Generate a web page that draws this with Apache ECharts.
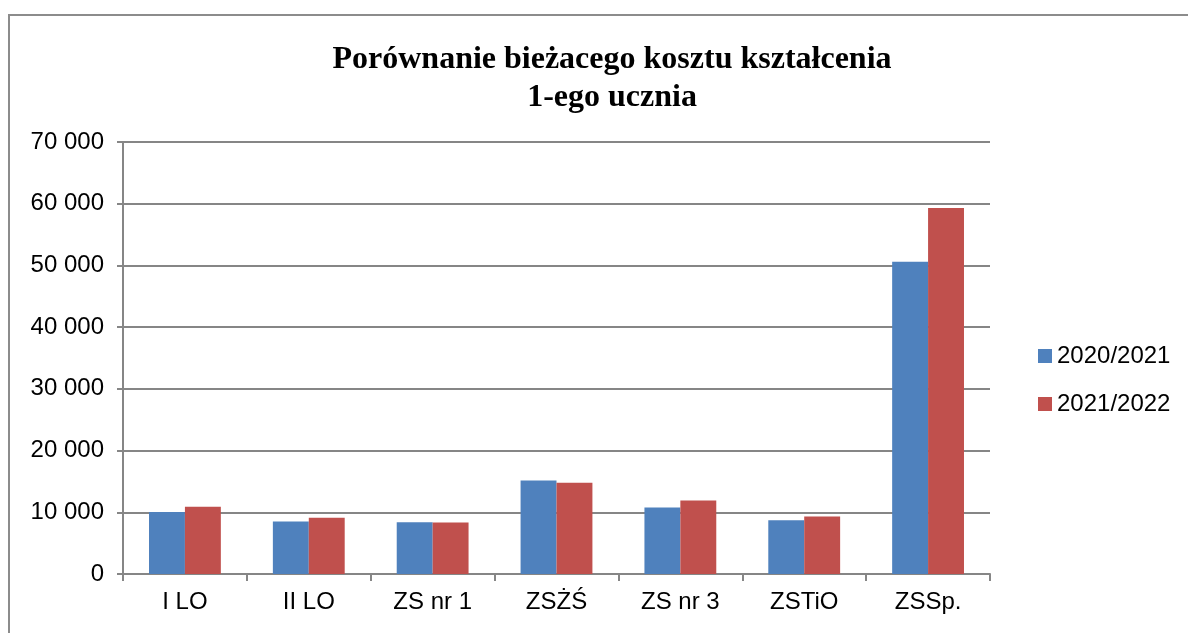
<!DOCTYPE html>
<html>
<head>
<meta charset="utf-8">
<script src="https://cdn.jsdelivr.net/npm/echarts@6/dist/echarts.min.js"></script>
<style>
  html, body { margin: 0; padding: 0; background: #fff; }
  #chart { width: 1188px; height: 633px; }
</style>
</head>
<body>
<div id="chart"></div>
<script>
const categories = ['I LO', 'II LO', 'ZS nr 1', 'ZSŻŚ', 'ZS nr 3', 'ZSTiO', 'ZSSp.'];
const series2020 = [10050, 8500, 8400, 15150, 10770, 8700, 50600];
const series2021 = [10900, 9100, 8330, 14800, 11900, 9300, 59300];
const seriesNames = ['2020/2021', '2021/2022'];

const chart = echarts.init(document.getElementById('chart'));
const labelFont = 'Liberation Sans, Arial, sans-serif';

const option = {
  animation: false,
  backgroundColor: '#fff',
  title: {
    text: 'Porównanie bieżacego kosztu kształcenia\n1-ego ucznia',
    left: 607,
    textAlign: 'center',
    top: 36,
    textStyle: {
      fontFamily: 'Liberation Serif, Times New Roman, serif',
      fontWeight: 'bold',
      fontSize: 32,
      lineHeight: 38,
      color: '#000'
    }
  },
  graphic: [{
    type: 'rect',
    shape: { x: 9, y: 15, width: 1200, height: 700 },
    style: { fill: 'none', stroke: '#8c8c8c', lineWidth: 2 },
    silent: true
  }],
  legend: {
    orient: 'vertical',
    left: 1033,
    top: 339,
    itemWidth: 14,
    itemHeight: 14,
    itemGap: 24,
    icon: 'rect',
    data: seriesNames,
    textStyle: { fontFamily: labelFont, fontSize: 24, color: '#000' }
  },
  grid: { left: 123, right: 198, top: 142, bottom: 59 },
  xAxis: {
    type: 'category',
    data: categories,
    axisLine: { lineStyle: { color: '#868686', width: 2 } },
    axisTick: { show: true, length: 7, lineStyle: { color: '#868686', width: 2 } },
    axisLabel: { fontFamily: labelFont, fontSize: 24, color: '#000', margin: 16 }
  },
  yAxis: {
    type: 'value',
    min: 0,
    max: 70000,
    interval: 10000,
    axisLine: { show: true, lineStyle: { color: '#868686', width: 2 } },
    axisTick: { show: true, length: 6, lineStyle: { color: '#868686', width: 2 } },
    splitLine: { lineStyle: { color: '#868686', width: 2 } },
    axisLabel: {
      fontFamily: labelFont,
      fontSize: 24,
      color: '#000',
      margin: 19,
      formatter: v => String(v).replace(/\B(?=(\d{3})+(?!\d))/g, ' ')
    }
  },
  series: [
    {
      name: seriesNames[0],
      type: 'bar',
      data: series2020,
      barGap: '0%',
      barCategoryGap: '42%',
      itemStyle: { color: '#4f81bd' }
    },
    {
      name: seriesNames[1],
      type: 'bar',
      data: series2021,
      itemStyle: { color: '#c0504d' }
    }
  ]
};

chart.setOption(option);
</script>
</body>
</html>
